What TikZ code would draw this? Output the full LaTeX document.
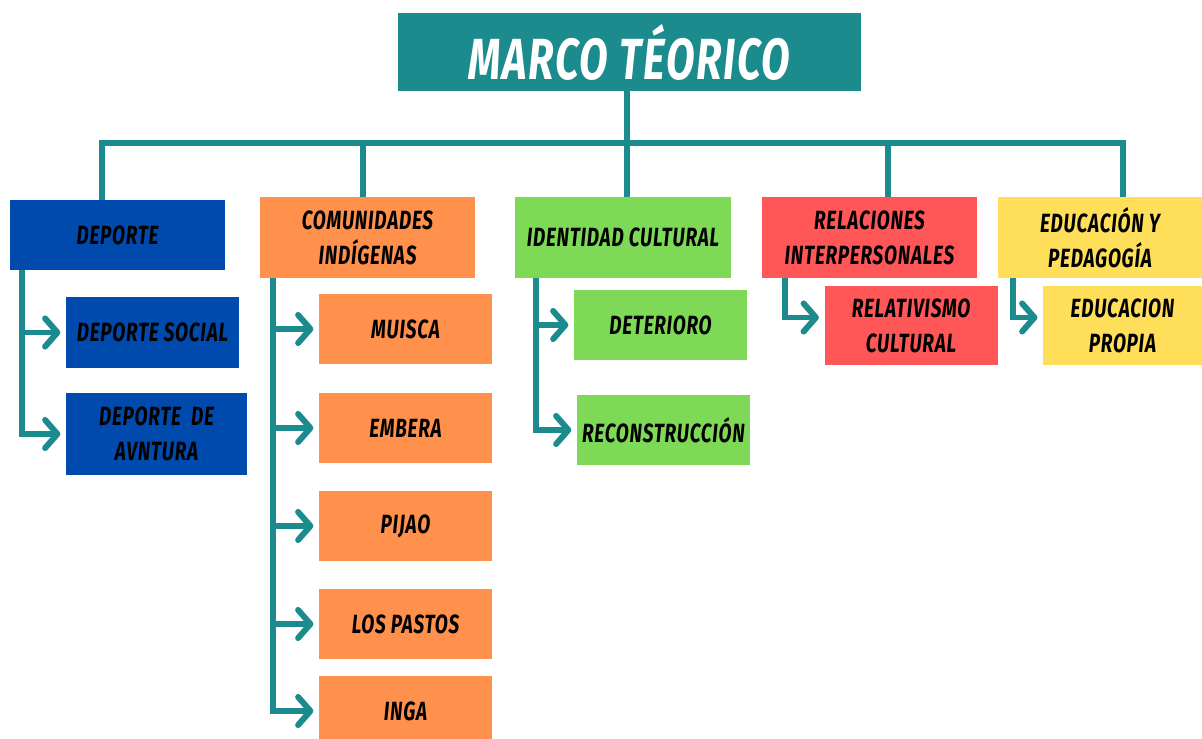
\documentclass[tikz,border=0pt]{standalone}
\usepackage{fontspec}
\usepackage{tikz}
\usetikzlibrary{arrows.meta, positioning}
\newfontfamily\boxfont[FakeStretch=0.72, LetterSpace=3]{Fira Sans}
\definecolor{tealcolor}{RGB}{28, 139, 142}
\definecolor{bluecolor}{RGB}{0, 74, 173}
\definecolor{orangecolor}{RGB}{255, 145, 77}
\definecolor{greencolor}{RGB}{126, 217, 87}
\definecolor{redcolor}{RGB}{255, 87, 87}
\definecolor{yellowcolor}{RGB}{255, 222, 89}

\begin{document}
\begin{tikzpicture}[
    x=0.02cm, y=-0.02cm,
    every node/.style={font=\boxfont\bfseries\itshape\fontsize{15}{20}\selectfont, align=center, inner sep=0pt},
    title/.style={fill=tealcolor, text=white, minimum width=9.26cm, minimum height=1.56cm, font=\boxfont\bfseries\itshape\fontsize{33}{36}\selectfont},
    topic/.style={minimum width=4.3cm, minimum height=1.62cm},
    subtopic/.style={minimum width=3.46cm, minimum height=1.4cm},
    link/.style={draw=tealcolor, line width=3.4pt},
    arrow/.style={link, -{Straight Barb[length=7pt, width=16pt, round]}, shorten >=3pt}
]
\useasboundingbox (0,0) rectangle (1202,739);

% Title and main topics
\node[title] (marco) at (629.5,52) {MARCO TÉORICO};
\node[topic, fill=bluecolor, minimum height=1.4cm] (deporte) at (117.5,235) {DEPORTE};
\node[topic, fill=orangecolor] (comunidades) at (367.5,237.5) {COMUNIDADES\\INDÍGENAS};
\node[topic, fill=greencolor, minimum width=4.32cm] (identidad) at (623,237.5) {IDENTIDAD CULTURAL};
\node[topic, fill=redcolor] (relaciones) at (869.5,237.5) {RELACIONES\\INTERPERSONALES};
\node[topic, fill=yellowcolor, minimum width=4.08cm] (educacion) at (1100,237.5) {EDUCACIÓN Y\\PEDAGOGÍA};

% Subtopics
\node[subtopic, fill=bluecolor, minimum height=1.42cm] (social) at (152.5,332.5) {DEPORTE SOCIAL};
\node[subtopic, fill=bluecolor, minimum width=3.62cm, minimum height=1.64cm] (aventura) at (156.5,434) {DEPORTE\ \ DE\\AVNTURA};
\node[subtopic, fill=orangecolor] (muisca) at (405.5,329) {MUISCA};
\node[subtopic, fill=orangecolor] (embera) at (405.5,428) {EMBERA};
\node[subtopic, fill=orangecolor] (pijao) at (405.5,526) {PIJAO};
\node[subtopic, fill=orangecolor] (pastos) at (405.5,624) {LOS PASTOS};
\node[subtopic, fill=orangecolor] (inga) at (405.5,711) {INGA};
\node[subtopic, fill=greencolor] (deterioro) at (660.5,325) {DETERIORO};
\node[subtopic, fill=greencolor] (reconstruccion) at (663.5,430) {RECONSTRUCCIÓN};
\node[subtopic, fill=redcolor, minimum height=1.58cm] (relativismo) at (911,325.5) {RELATIVISMO\\CULTURAL};
\node[subtopic, fill=yellowcolor, minimum width=3.18cm, minimum height=1.58cm] (propia) at (1122.5,325.5) {EDUCACION\\PROPIA};

% Tree lines
\coordinate (bus) at (627,143);
\draw[link] (marco.south -| bus) -- (bus);
\draw[link] ([xshift=-0.31cm]deporte.north) |- (bus);
\draw[link] ([xshift=-0.09cm]comunidades.north) |- (bus);
\draw[link] ([xshift=0.08cm]identidad.north) |- (bus);
\draw[link] ([xshift=0.37cm]relaciones.north) |- (bus);
\draw[link] ([xshift=0.46cm]educacion.north) |- (bus);

% Branch arrows
\draw[arrow] ([xshift=0.24cm]deporte.south west) |- (social.west);
\draw[arrow] ([xshift=0.24cm]deporte.south west) |- (aventura.west);
\foreach \sub in {muisca, embera, pijao, pastos, inga}
    \draw[arrow] ([xshift=0.26cm]comunidades.south west) |- (\sub.west);
\draw[arrow] ([xshift=0.42cm]identidad.south west) |- (deterioro.west);
\draw[arrow] ([xshift=0.42cm]identidad.south west) |- (reconstruccion.west);
\draw[arrow] ([xshift=0.46cm]relaciones.south west) |- ([yshift=0.16cm]relativismo.west);
\draw[arrow] ([xshift=0.3cm]educacion.south west) |- ([yshift=0.16cm]propia.west);

\end{tikzpicture}
\end{document}
